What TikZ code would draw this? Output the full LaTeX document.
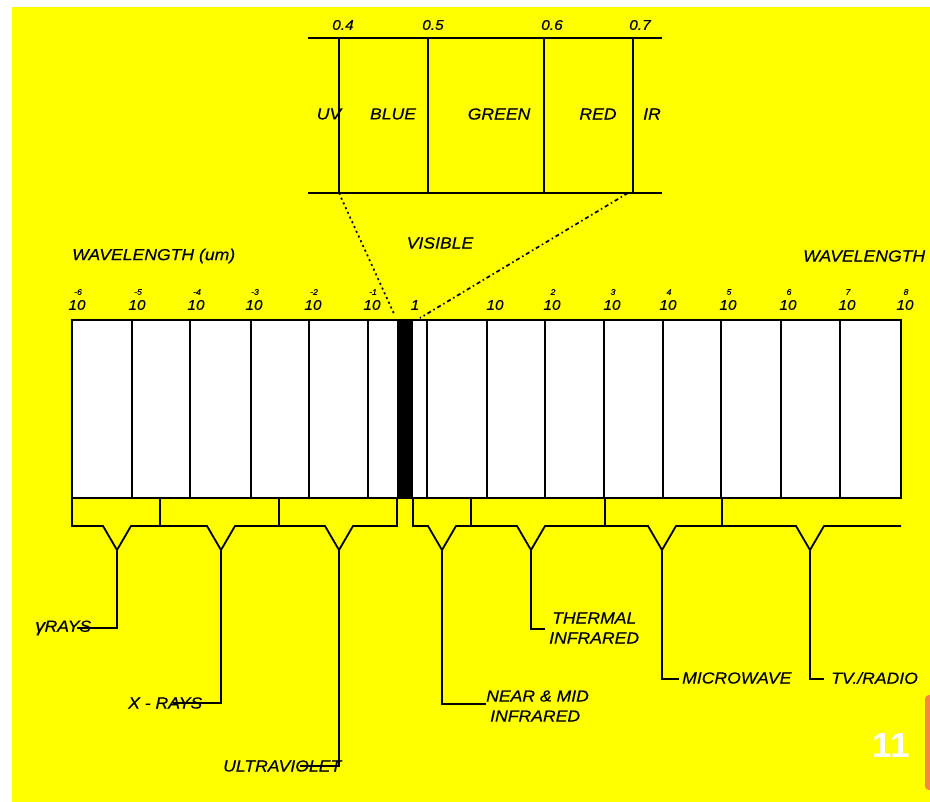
\documentclass[tikz,border=0pt]{standalone}
\usepackage{fontspec}
\setmainfont{Liberation Sans}
\newfontfamily\lblfont[FakeStretch=1.1,FakeBold=0.4]{Liberation Sans}
\definecolor{bgyellow}{HTML}{FFFF00}
\definecolor{edgeorange}{HTML}{F5883E}
\begin{document}
\begin{tikzpicture}[x=1pt,y=-1pt,
  ln/.style={line width=1.8pt, black},
  lbl/.style={font=\lblfont\itshape\fontsize{16}{20}\selectfont, inner sep=0pt, text=black},
  num/.style={font=\lblfont\itshape\fontsize{14}{16}\selectfont, inner sep=0pt, text=black},
  expo/.style={font=\lblfont\itshape\fontsize{8}{9}\selectfont, inner sep=0pt, text=black}]
\useasboundingbox (0,0) rectangle (930,802);
\clip (0,0) rectangle (930,802);
\fill[white] (0,0) rectangle (930,802);
\fill[bgyellow] (12,7) rectangle (930,802);
\fill[edgeorange, rounded corners=4pt] (925,695) rectangle (950,790);

% ---- visible band detail ----
\draw[ln] (308,38) -- (662,38);
\draw[ln] (308,193) -- (662,193);
\foreach \x in {339,428,544,633} \draw[ln] (\x,38) -- (\x,193);
\node[num] (n04) at (343,25) {0.4};
\node[num] (n05) at (433,25) {0.5};
\node[num] (n06) at (552,25) {0.6};
\node[num] (n07) at (640,25) {0.7};
\node[lbl] (uv) at (329,114) {UV};
\node[lbl] (blue) at (393,114) {BLUE};
\node[lbl] (green) at (499,114) {GREEN};
\node[lbl] (red) at (598,114) {RED};
\node[lbl] (ir) at (652,114) {IR};
\node[lbl] (visible) at (440,243) {VISIBLE};

\coordinate (vl) at (339,193);
\coordinate (vr) at (628,193);
\coordinate (bl) at (395,316);
\coordinate (br) at (420,318);
\draw[line width=1.7pt, dash pattern=on 2pt off 3.2pt] (vl) -- (bl);
\draw[line width=1.7pt, dash pattern=on 4pt off 3pt on 1.5pt off 3pt] (vr) -- (br);

% ---- wavelength labels ----
\node[lbl, anchor=west] (wl1) at (72,256) {WAVELENGTH (um)};
\node[lbl, anchor=west] (wl2) at (803,256) {WAVELENGTH};

\foreach \x/\e in {77/-6,137/-5,196/-4,254/-3,313/-2,372/-1,552/2,612/3,668/4,728/5,788/6,847/7,905/8}{
  \node[num] at (\x,305) {10};
  \node[expo] at (\x+1,292) {\e};
}
\node[num] (one) at (415,305) {1};
\node[num] (ten) at (495,305) {10};

% ---- main bar ----
\fill[white] (72,320) rectangle (901,498);
\fill[black] (397,320) rectangle (413,498);
\foreach \x in {132,190,251,309,368,427,487,545,604,663,721,781,840}
  \draw[line width=1.5pt] (\x,320) -- (\x,498);
\draw[ln] (72,320) rectangle (901,498);

% ---- brackets ----
\draw[ln] (72,498) -- (72,526) -- (103,526) -- (117,550) -- (131,526) -- (207,526) -- (221,550) -- (235,526)
  -- (325,526) -- (339,550) -- (353,526) -- (397,526) -- (397,498);
\foreach \x in {160,279} \draw[ln] (\x,498) -- (\x,526);
\draw[ln] (413,498) -- (413,526) -- (428,526) -- (442,550) -- (456,526) -- (517,526) -- (531,550) -- (545,526)
  -- (648,526) -- (662,550) -- (676,526) -- (796,526) -- (810,550) -- (824,526) -- (901,526);
\foreach \x in {471,605,722} \draw[ln] (\x,498) -- (\x,526);

% ---- region labels ----
\node[lbl, anchor=west] (gam) at (35,628) {\fontsize{18}{20}\selectfont γ\kern-0.5pt\fontsize{16}{20}\selectfont RAYS};
\node[lbl, anchor=west] (xr) at (128,703) {X - RAYS};
\node[lbl, anchor=west] (ultra) at (223,766) {ULTRAVIOLET};
\node[lbl, anchor=west, align=left] (nir) at (486,706) {NEAR \& MID\\\kern4pt INFRARED};
\node[lbl, anchor=west, align=left] (tir) at (549,628) {\kern3pt THERMAL\\INFRARED};
\node[lbl, anchor=west] (mw) at (682,678) {MICROWAVE};
\node[lbl, anchor=west] (tv) at (831,678) {TV./RADIO};

\coordinate (tG) at (117,550); \coordinate (eG) at (77,628);
\coordinate (tX) at (221,550); \coordinate (eX) at (173,703);
\coordinate (tU) at (339,550); \coordinate (eU) at (300,766);
\coordinate (tN) at (442,550); \coordinate (eN) at (486,704);
\coordinate (tT) at (531,550); \coordinate (eT) at (545,629);
\coordinate (tM) at (662,550); \coordinate (eM) at (679,679);
\coordinate (tR) at (810,550); \coordinate (eR) at (824,679);
\foreach \a/\b in {tG/eG,tX/eX,tU/eU,tN/eN,tT/eT,tM/eM,tR/eR}
  \draw[ln] (\a) |- (\b);

\node[font=\bfseries\fontsize{35}{38}\selectfont, text=white, inner sep=0pt] (page) at (891,745) {11};
\end{tikzpicture}
\end{document}
